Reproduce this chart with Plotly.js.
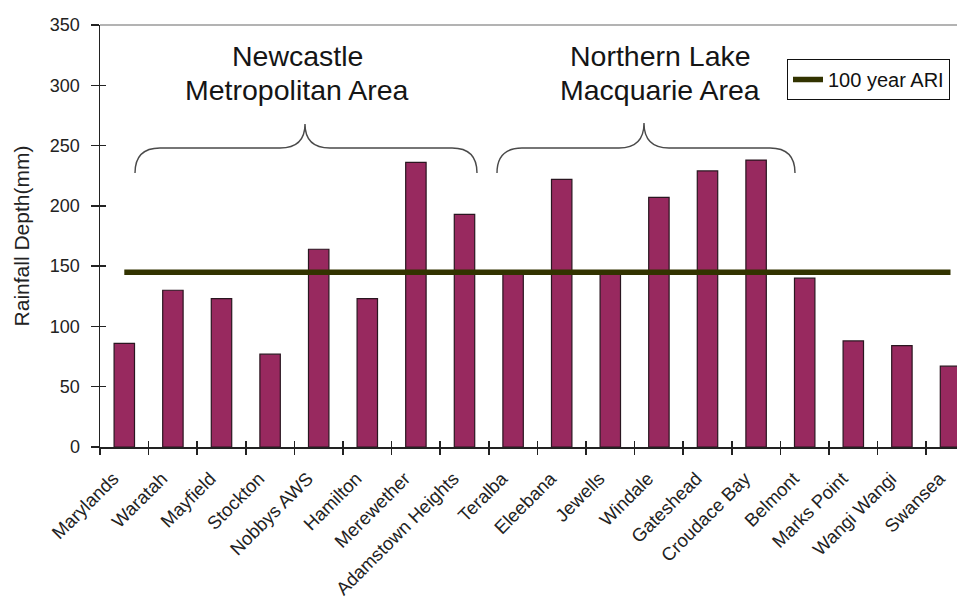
<!DOCTYPE html>
<html>
<head>
<meta charset="utf-8">
<script src="https://cdn.plot.ly/plotly-3.0.1.min.js"></script>
<style>
  html, body { margin: 0; padding: 0; background: #ffffff; }
  #chart { width: 957px; height: 601px; }
</style>
</head>
<body>
<div id="chart"></div>
<script>
// Rainfall stations, west-to-east / north-to-south
const stations = [
  "Marylands", "Waratah", "Mayfield", "Stockton", "Nobbys AWS", "Hamilton",
  "Merewether", "Adamstown Heights", "Teralba", "Eleebana", "Jewells", "Windale",
  "Gateshead", "Croudace Bay", "Belmont", "Marks Point", "Wangi Wangi", "Swansea"
];
// Recorded rainfall depth at each station (mm)
const rainfallDepth = [
  86, 130, 123, 77, 164, 123,
  236, 193, 144, 222, 144, 207,
  229, 238, 140, 88, 84, 67
];
// 100 year ARI design depth (mm)
const ariDepth = 145;
const ariLabel = "100 year ARI";
const yTicks = [0, 50, 100, 150, 200, 250, 300, 350];
const groupLabels = [
  ["Newcastle", "Metropolitan Area"],
  ["Northern Lake", "Macquarie Area"]
];

// plot box in page pixels
const W = 957, H = 601;
const L = 100, R = 0, T = 25, B = 154;
const plotW = W - L - R, plotH = H - T - B;
const px = v => (v - L) / plotW;       // page x -> paper x
const py = v => (H - B - v) / plotH;   // page y -> paper y

// curly brace path drawn in page pixels, converted to paper units
function brace(x0, x1, xm, yEnd, yMid, yTip) {
  const r = 25;
  const pts = [
    `M ${px(x0)},${py(yEnd)}`,
    `Q ${px(x0)},${py(yMid)} ${px(x0 + r)},${py(yMid)}`,
    `L ${px(xm - r)},${py(yMid)}`,
    `Q ${px(xm)},${py(yMid)} ${px(xm)},${py(yTip)}`,
    `Q ${px(xm)},${py(yMid)} ${px(xm + r)},${py(yMid)}`,
    `L ${px(x1 - r)},${py(yMid)}`,
    `Q ${px(x1)},${py(yMid)} ${px(x1)},${py(yEnd)}`
  ];
  return {
    type: "path", xref: "paper", yref: "paper", path: pts.join(" "),
    line: { color: "#4a4a4a", width: 1.4 }
  };
}

const FONT = "Liberation Sans, Arial, Helvetica, sans-serif";
const nCat = stations.length;
const xRange = [-0.5, -0.5 + plotW / 48.6];
const tickColor = "#222222";

const traces = [
  {
    type: "bar",
    x: stations,
    y: rainfallDepth,
    width: 0.42,
    marker: { color: "#98295f", line: { color: "#2a1620", width: 1.2 } },
    showlegend: false,
    hoverinfo: "x+y"
  },
  {
    // design line sits on the overlay axes, above the bars
    type: "scatter",
    mode: "lines",
    xaxis: "x2", yaxis: "y2",
    x: [stations[0], stations[nCat - 1]],
    y: [ariDepth, ariDepth],
    name: ariLabel,
    line: { color: "#323300", width: 5.5 },
    hoverinfo: "name+y"
  }
];

const layout = {
  width: W, height: H,
  margin: { l: L, r: R, t: T, b: B, pad: 0 },
  paper_bgcolor: "#ffffff",
  plot_bgcolor: "#ffffff",
  font: { family: FONT, color: "#222222", size: 18 },
  showlegend: true,
  legend: {
    x: px(787), y: py(59), xanchor: "left", yanchor: "top",
    bgcolor: "#ffffff", bordercolor: "#111111", borderwidth: 1,
    font: { family: FONT, size: 20, color: "#111111" },
    itemwidth: 30, tracegroupgap: 0
  },
  xaxis: {
    type: "category",
    categoryorder: "array", categoryarray: stations,
    range: xRange,
    showgrid: false, zeroline: false,
    showline: true, linecolor: tickColor, linewidth: 1.5,
    ticks: "outside", tickson: "boundaries", ticklen: 6, tickwidth: 1.5, tickcolor: tickColor,
    tickangle: -45,
    ticklabelstandoff: 12, ticklabelshift: -11,
    tickfont: { family: FONT, size: 18.5, color: "#222222" },
    fixedrange: true
  },
  // overlay axes carry the inner half of the crossing tick marks
  xaxis2: {
    overlaying: "x", anchor: "y2", type: "category",
    categoryorder: "array", categoryarray: stations,
    range: xRange,
    ticks: "inside", tickson: "boundaries", ticklen: 6, tickwidth: 1.5, tickcolor: tickColor,
    showticklabels: false, showgrid: false, zeroline: false, showline: false,
    fixedrange: true
  },
  yaxis: {
    range: [0, 350],
    tickvals: yTicks,
    showgrid: false, zeroline: false,
    showline: true, linecolor: tickColor, linewidth: 1.5,
    ticks: "outside", ticklen: 8, tickwidth: 1.5, tickcolor: tickColor,
    ticklabelstandoff: 7,
    tickfont: { family: FONT, size: 18, color: "#222222" },
    title: { text: "Rainfall Depth(mm)", font: { family: FONT, size: 21, color: "#222222" }, standoff: 14 },
    fixedrange: true
  },
  yaxis2: {
    overlaying: "y", anchor: "x2", side: "left", type: "linear",
    range: [0, 350], tickvals: yTicks,
    ticks: "inside", ticklen: 6, tickwidth: 1.5, tickcolor: tickColor,
    showticklabels: false, showgrid: false, zeroline: false, showline: false,
    fixedrange: true
  },
  shapes: [
    // top border of the plot area
    { type: "line", xref: "paper", yref: "paper", x0: 0, x1: 1, y0: 1, y1: 1,
      line: { color: "#9a9a9a", width: 1.5 } },
    brace(135, 477, 305, 173, 148, 124),
    brace(497, 795, 644, 173, 148, 123)
  ],
  annotations: [
    { text: groupLabels[0][0], x: px(297), y: py(56) },
    { text: groupLabels[0][1], x: px(297), y: py(90) },
    { text: groupLabels[1][0], x: px(660), y: py(56) },
    { text: groupLabels[1][1], x: px(660), y: py(90) }
  ].map(a => Object.assign({
    xref: "paper", yref: "paper", showarrow: false,
    xanchor: "center", yanchor: "middle",
    font: { family: FONT, size: 28.5, color: "#151515" }
  }, a))
};

Plotly.newPlot("chart", traces, layout, { displayModeBar: false, staticPlot: true });
</script>
</body>
</html>
